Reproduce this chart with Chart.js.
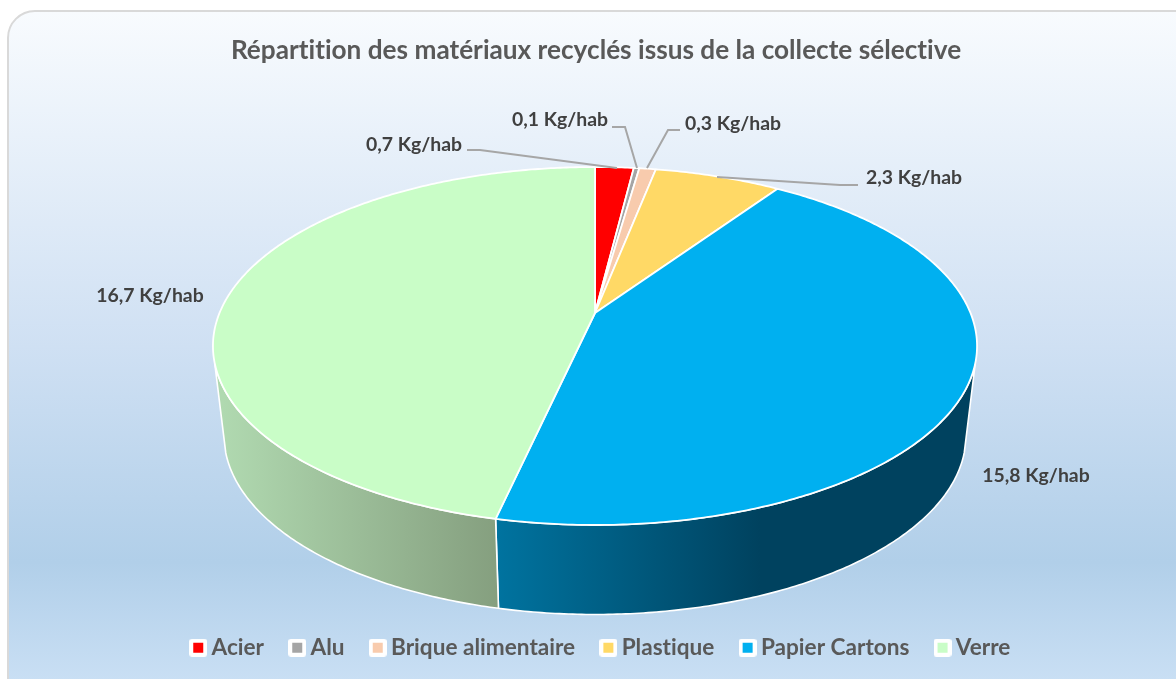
<!DOCTYPE html>
<html lang="fr">
<head>
<meta charset="utf-8">
<title>Répartition des matériaux recyclés</title>
<script src="https://cdn.jsdelivr.net/npm/chart.js@4"></script>
<style>
html,body{margin:0;padding:0;background:#fff;overflow:hidden}
#wrap{position:relative;width:1176px;height:679px;overflow:hidden}
#panel{position:absolute;left:7px;top:10px;width:1220px;height:720px;box-sizing:border-box;border:2px solid #d9d9d9;border-radius:28px;
  background:linear-gradient(180deg,#f8fbfe 0,#cfe0f3 335px,#b1cfe9 550px,#c9dff4 669px)}
canvas{position:absolute;left:0;top:0}
</style>
</head>
<body>
<div id="wrap"><div id="panel"></div><canvas id="pie" width="1176" height="679"></canvas></div>
<script>
const TITLE='Répartition des matériaux recyclés issus de la collecte sélective';
const categories=['Acier','Alu','Brique alimentaire','Plastique','Papier Cartons','Verre'];
const values=[0.7,0.1,0.3,2.3,15.8,16.7];
const colors=['#ff0000','#a5a5a5','#f8cbad','#ffd966','#00b0f0','#c9fdc7'];
const UNIT=' Kg/hab';
const FONT='Lato, "Open Sans", sans-serif';

// label centre + leader polyline, one entry per slice (null leader = none)
const labelPos=[[414,145],[560,120],[733,124],[914,178],[1036,476],[150,296]];
const leaders=[
  [[467,150],[480,150],[617,168]],
  [[612,127],[625,127],[637,168]],
  [[680,130],[668,130],[647,168]],
  [[858,185],[840,185],[717,177]],
  null,null];

// side wall gradients [x, colour] per slice that shows a wall
const wallStops={
  4:[[498,'#00739f'],[760,'#00425f'],[980,'#00425f']],
  5:[[222,'#b0d9b0'],[498,'#859f7f']]
};

// perspective of the disc: apex on screen, half width/heights
const P={cx:595,cy:313,a:375.5,b:172.9,p:0.1844};
const BASE={sx:0.971,sy:1,dy:89.5};
const WALL_FROM=106*Math.PI/180-Math.PI/2, WALL_TO=254*Math.PI/180-Math.PI/2;
const LEGEND_SHIFT=7.5;

function project(t,r,base){
  const u=r*Math.cos(t),v=r*Math.sin(t),w=1-P.p*v;
  let X=P.a*u/w,Y=P.b*v/w;
  if(base){X*=BASE.sx;Y=Y*BASE.sy+BASE.dy}
  return [P.cx+X,P.cy+Y];
}
function rimPoints(from,to,base){
  const n=Math.max(2,Math.ceil(Math.abs(to-from)/0.01)),pts=[];
  for(let i=0;i<=n;i++)pts.push(project(from+(to-from)*i/n,1,base));
  return pts;
}
function trace(ctx,pts,move=true){
  pts.forEach((p,i)=>(i||!move)?ctx.lineTo(p[0],p[1]):ctx.moveTo(p[0],p[1]));
}

const pie3d={
  id:'pie3d',
  afterLayout(chart){
    chart.legend.left+=LEGEND_SHIFT;
    chart.legend.right+=LEGEND_SHIFT;
  },
  beforeDraw(chart){
    // no "ti" ligature in the title and labels
    chart.ctx.textRendering='optimizeSpeed';
  },
  beforeDatasetsDraw(chart){
    const ctx=chart.ctx,arcs=chart.getDatasetMeta(0).data;
    ctx.save();
    ctx.lineJoin='round';
    // walls
    arcs.forEach((arc,i)=>{
      const from=Math.max(arc.startAngle,WALL_FROM),to=Math.min(arc.endAngle,WALL_TO);
      if(to<=from)return;
      const stops=wallStops[i]||[[0,colors[i]],[1176,colors[i]]];
      const x0=stops[0][0],x1=stops[stops.length-1][0];
      const g=ctx.createLinearGradient(x0,0,x1,0);
      stops.forEach(s=>g.addColorStop((s[0]-x0)/(x1-x0),s[1]));
      ctx.beginPath();
      trace(ctx,rimPoints(from,to,false));
      trace(ctx,rimPoints(to,from,true),false);
      ctx.closePath();
      ctx.fillStyle=g;ctx.fill();
      ctx.strokeStyle='#fff';ctx.lineWidth=1.6;ctx.stroke();
    });
    // top face
    arcs.forEach((arc,i)=>{
      ctx.beginPath();
      ctx.moveTo(P.cx,P.cy);
      trace(ctx,rimPoints(arc.startAngle,arc.endAngle,false),false);
      ctx.closePath();
      ctx.fillStyle=colors[i];ctx.fill();
      ctx.strokeStyle='#fff';ctx.lineWidth=1.8;ctx.stroke();
    });
    ctx.restore();
    return false;
  },
  afterDraw(chart){
    const ctx=chart.ctx;
    ctx.save();
    ctx.strokeStyle='#a6a6a6';ctx.lineWidth=2;
    leaders.forEach(l=>{
      if(!l)return;
      ctx.beginPath();trace(ctx,l);ctx.stroke();
    });
    ctx.font='bold 19.4px '+FONT;
    ctx.fillStyle='#404040';
    ctx.textAlign='center';ctx.textBaseline='middle';
    values.forEach((v,i)=>{
      ctx.fillText(v.toFixed(1).replace('.',',')+UNIT,labelPos[i][0],labelPos[i][1]);
    });
    ctx.restore();
  }
};

function legendIcon(color){
  const c=document.createElement('canvas');
  c.width=18;c.height=18;
  const x=c.getContext('2d');
  x.fillStyle='#fff';
  x.beginPath();x.roundRect(0,0,18,18,3);x.fill();
  x.fillStyle=color;
  x.fillRect(4,4,10,10);
  return c;
}
const legendIcons=colors.map(legendIcon);

new Chart(document.getElementById('pie'),{
  type:'pie',
  data:{labels:categories,datasets:[{data:values,backgroundColor:colors,borderColor:'#fff'}]},
  options:{
    responsive:false,animation:false,
    layout:{padding:{left:16,bottom:10}},
    plugins:{
      title:{display:true,text:TITLE,color:'#595959',font:{family:FONT,size:26.2,weight:'bold'},padding:{top:35,bottom:10}},
      legend:{position:'bottom',labels:{usePointStyle:true,boxWidth:4,padding:31.2,color:'#595959',font:{family:FONT,size:22.6,weight:'bold'},
        generateLabels:chart=>Chart.overrides.pie.plugins.legend.labels.generateLabels(chart).map((it,i)=>({...it,pointStyle:legendIcons[i]}))}},
      tooltip:{enabled:false}
    }
  },
  plugins:[pie3d]
});
</script>
</body>
</html>
